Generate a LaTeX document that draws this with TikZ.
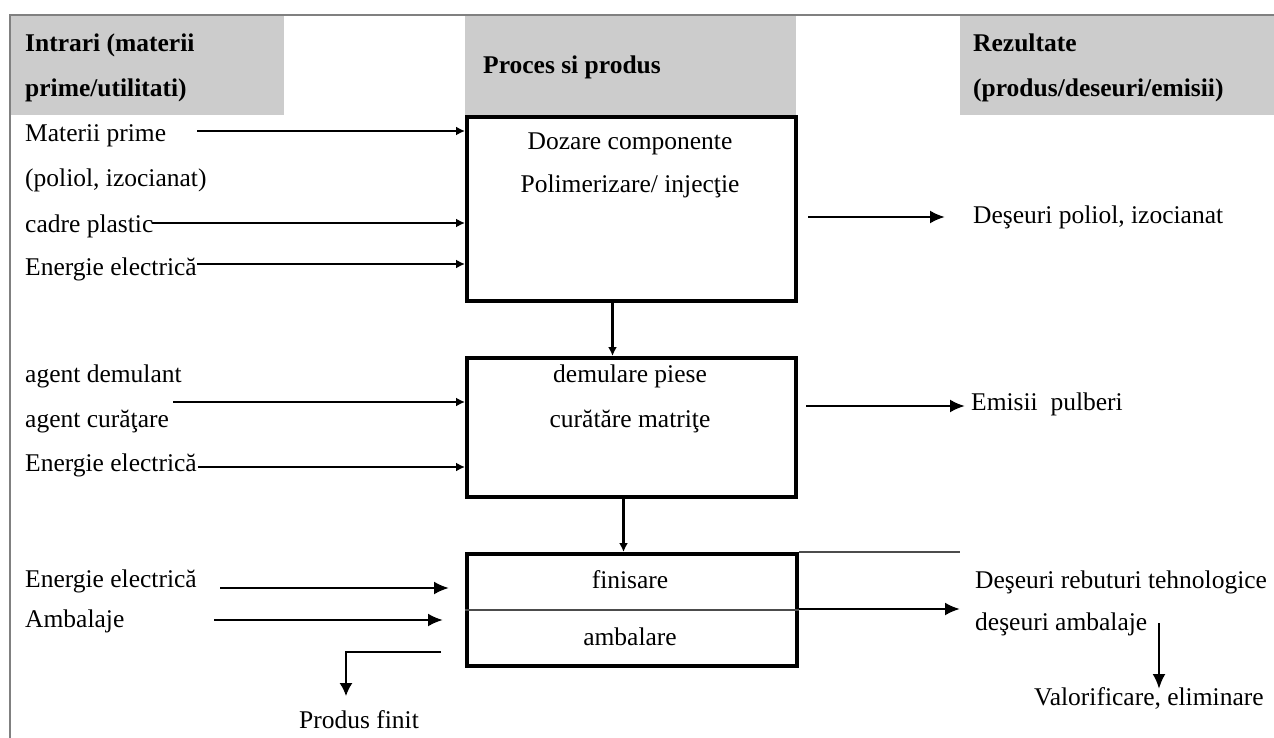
\documentclass[tikz,border=0pt]{standalone}
\usepackage{fontspec}
\setmainfont{Liberation Serif}
\usetikzlibrary{arrows.meta,calc}
\begin{document}
\begin{tikzpicture}[x=1pt,y=-1pt,
 txt/.style={font=\fontsize{25.5}{30}\selectfont, inner sep=0pt, anchor=base west},
 hdr/.style={font=\fontsize{25.5}{30}\selectfont\bfseries, inner sep=0pt, anchor=base west},
 ctr/.style={font=\fontsize{25.5}{30}\selectfont, inner sep=0pt, anchor=base},
 greybox/.style={fill=black!20, draw=none, anchor=north west, inner sep=0pt},
 procbox/.style={draw=black, line width=4pt, anchor=north west, inner sep=0pt},
 arr/.style={line width=2.5pt, -{Latex[length=15pt,width=13pt]}},
 sarr/.style={line width=2.5pt, -{Latex[length=9pt,width=9pt]}},
 thinline/.style={line width=1.5pt, draw=black!70},
 frameline/.style={line width=2.5pt, draw=black!50}]
\useasboundingbox (0,0) rectangle (1274,738);
\fill[white] (0,0) rectangle (1274,738);
% header cells
\node[greybox, minimum width=273pt, minimum height=99pt] (g1) at (11,16) {};
\node[greybox, minimum width=331pt, minimum height=99pt] (g2) at (465,16) {};
\node[greybox, minimum width=314pt, minimum height=99pt] (g3) at (960,16) {};
\draw[frameline] (1274,15) -- (10,15) -- (10,738);
\node[hdr] (h1a) at (25,52) {Intrari (materii};
\node[hdr] (h1b) at (25,97) {prime/utilitati)};
\node[hdr] (h2) at (483,74) {Proces si produs};
\node[hdr] (h3a) at (973,52) {Rezultate};
\node[hdr] (h3b) at (973,97) {(produs/deseuri/emisii)};
% process boxes
\node[procbox, minimum width=329pt, minimum height=184pt] (b1) at (465,115) {};
\node[procbox, minimum width=329pt, minimum height=139pt] (b2) at (465,356) {};
\node[procbox, minimum width=330pt, minimum height=112pt] (b3) at (465,552) {};
\draw[thinline] (b3.west) -- (b3.east);
\node[ctr] (t1a) at (630,150) {Dozare componente};
\node[ctr] (t1b) at (630,193) {Polimerizare/ injecţie};
\node[ctr] (t2a) at (630,382) {demulare piese};
\node[ctr] (t2b) at (630,427) {curătăre matriţe};
\node[ctr] (t3a) at (630,588) {finisare};
\node[ctr] (t3b) at (630,645) {ambalare};
% inputs
\node[txt] (l1) at (25,142) {Materii prime};
\node[txt] (l2) at (25,187) {(poliol, izocianat)};
\node[txt] (l3) at (25,233) {cadre plastic};
\node[txt] (l4) at (25,275) {Energie electrică};
\node[txt] (l5) at (25,382) {agent demulant};
\node[txt] (l6) at (25,427) {agent curăţare};
\node[txt] (l7) at (25,471) {Energie electrică};
\node[txt] (l8) at (25,587) {Energie electrică};
\node[txt] (l9) at (25,627) {Ambalaje};
% outputs
\node[txt] (r1) at (973,223) {Deşeuri poliol, izocianat};
\node[txt] (r2) at (971,410) {Emisii\ \ pulberi};
\node[txt] (r3a) at (975,588) {Deşeuri rebuturi tehnologice};
\node[txt] (r3b) at (975,630) {deşeuri ambalaje};
\node[txt] (r4) at (1034,705) {Valorificare, eliminare};
\node[ctr] (pf) at (359,728) {Produs finit};
% free ends
\coordinate (a1) at (197,131);
\coordinate (a2) at (152,223);
\coordinate (a3) at (197,264);
\coordinate (a4) at (173,402);
\coordinate (a5) at (198,467);
\coordinate (a6) at (220,588);
\coordinate (a6e) at (449,588);
\coordinate (a7) at (214,620);
\coordinate (a7e) at (443,620);
\coordinate (o1) at (808,217);
\coordinate (o1e) at (945,217);
\coordinate (o2) at (806,406);
\coordinate (o2e) at (965,406);
\coordinate (o3) at (799,609);
\coordinate (o3e) at (960,609);
\coordinate (o3l) at (960,552);
\coordinate (v1) at (1159,623);
\coordinate (v1e) at (1159,689);
\coordinate (p1) at (441,652);
\coordinate (p2) at (346,652);
\coordinate (p3) at (346,696);
% input connectors
\draw[sarr] (a1) -- (a1 -| b1.west);
\draw[sarr] (a2) -- (a2 -| b1.west);
\draw[sarr] (a3) -- (a3 -| b1.west);
\draw[sarr] (a4) -- (a4 -| b2.west);
\draw[sarr] (a5) -- (a5 -| b2.west);
\draw[arr] (a6) -- (a6e);
\draw[arr] (a7) -- (a7e);
% process flow
\draw[sarr] ([xshift=-19pt]b1.south) -- ([xshift=-19pt]b1.south |- b2.north);
\draw[sarr] ([xshift=-8pt]b2.south) -- ([xshift=-8pt]b2.south |- b3.north);
% outputs
\draw[arr] (o1) -- (o1e);
\draw[arr] (o2) -- (o2e);
\draw[arr] (o3) -- (o3e);
\draw[thinline] (b3.north east) -- (o3l);
\draw[arr] (v1) -- (v1e);
\draw[line width=1.5pt, -{Latex[length=13pt,width=13pt]}] (p1) -- (p2) -- (p3);
\end{tikzpicture}
\end{document}
